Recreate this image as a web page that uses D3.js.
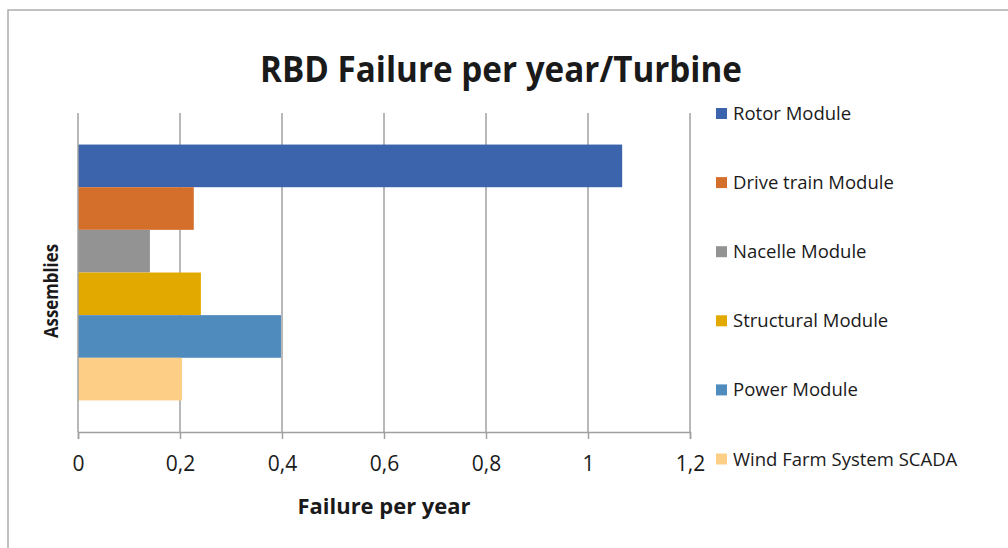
<!doctype html>
<html>
<head>
<meta charset="utf-8">
<script src="https://d3js.org/d3.v7.min.js"></script>
<style>
  body { margin: 0; background: #fff; }
  text { font-family: "Open Sans", sans-serif; fill: #1a1a1a; }
</style>
</head>
<body>
<div id="chart"></div>
<script>
// data
var modules = ["Rotor Module", "Drive train Module", "Nacelle Module",
               "Structural Module", "Power Module", "Wind Farm System SCADA"]
var failures = [1.067, 0.227, 0.141, 0.241, 0.398, 0.204]
var colors = ["#3c64ad", "#d46e2b", "#939393", "#e2aa00", "#508bbe", "#fdce86"]
var xTicks = [0, 0.2, 0.4, 0.6, 0.8, 1, 1.2]

var width = 1008, height = 548
var plot = {left: 78, right: 690, top: 113, bottom: 432}

var svg = d3.select("#chart").append("svg")
    .attr("width", width)
    .attr("height", height)

// chart border (runs off the right and bottom edges)
svg.append("rect")
    .attr("x", 8).attr("y", 10)
    .attr("width", 1020).attr("height", 560)
    .attr("fill", "#fff")
    .attr("stroke", "#adadad")
    .attr("stroke-width", 1.5)

var x = d3.scaleLinear().domain([0, 1.2]).range([plot.left, plot.right])
var y = d3.scaleBand().domain(modules)
    .range([plot.top, plot.bottom])
    .paddingInner(0).paddingOuter(0.74)

// vertical gridlines
svg.append("g").selectAll("line")
    .data(xTicks.slice(1))
  .enter().append("line")
    .attr("x1", d => x(d)).attr("x2", d => x(d))
    .attr("y1", plot.top).attr("y2", plot.bottom)
    .attr("stroke", "#a0a0a0").attr("stroke-width", 1.5)

// bars
svg.append("g").selectAll("rect")
    .data(modules)
  .enter().append("rect")
    .attr("x", x(0))
    .attr("y", d => y(d))
    .attr("width", (d, i) => x(failures[i]) - x(0))
    .attr("height", y.bandwidth())
    .attr("fill", (d, i) => colors[i])

// left category axis line
svg.append("line")
    .attr("x1", x(0)).attr("x2", x(0))
    .attr("y1", plot.top).attr("y2", plot.bottom)
    .attr("stroke", "#a0a0a0").attr("stroke-width", 1.5)

// bottom value axis
var xAxis = svg.append("g")
    .attr("transform", "translate(0," + plot.bottom + ")")
    .call(d3.axisBottom(x).tickValues(xTicks).tickSize(7).tickPadding(17)
      .tickFormat(d => String(d).replace(".", ",")))
xAxis.select(".domain").attr("stroke", "#a0a0a0").attr("stroke-width", 1.5)
xAxis.selectAll(".tick line").attr("stroke", "#a0a0a0").attr("stroke-width", 1.5)
xAxis.selectAll(".tick text")
    .style("font-family", "'Open Sans', sans-serif")
    .style("font-size", "21px")
    .attr("fill", "#1a1a1a")

// title
svg.append("text")
    .attr("x", 501).attr("y", 82)
    .attr("text-anchor", "middle")
    .attr("textLength", 482)
    .attr("lengthAdjust", "spacingAndGlyphs")
    .style("font-size", "36px")
    .style("font-weight", "bold")
    .text("RBD Failure per year/Turbine")

// axis titles
svg.append("text")
    .attr("x", (plot.left + plot.right) / 2).attr("y", 514)
    .attr("text-anchor", "middle")
    .attr("textLength", 173)
    .attr("lengthAdjust", "spacingAndGlyphs")
    .style("font-size", "21px")
    .style("font-weight", "bold")
    .text("Failure per year")

svg.append("text")
    .attr("transform", "translate(58,291) rotate(-90)")
    .attr("text-anchor", "middle")
    .attr("textLength", 94)
    .attr("lengthAdjust", "spacingAndGlyphs")
    .style("font-size", "20px")
    .style("font-weight", "bold")
    .text("Assemblies")

// legend
var legend = svg.append("g").selectAll("g")
    .data(modules)
  .enter().append("g")
    .attr("transform", (d, i) => "translate(716," + (113.5 + i * 69.1) + ")")

legend.append("rect")
    .attr("x", 0).attr("y", -5.5)
    .attr("width", 11).attr("height", 11)
    .attr("fill", (d, i) => colors[i])

legend.append("text")
    .attr("x", 17).attr("y", 6.5)
    .style("font-size", "18.5px")
    .text(d => d)
</script>
</body>
</html>
